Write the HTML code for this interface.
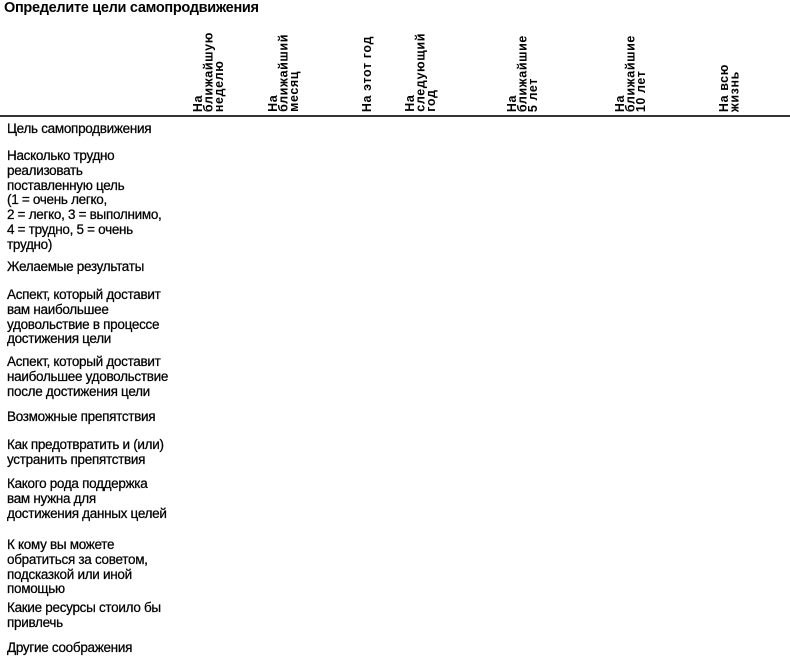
<!DOCTYPE html>
<html><head><meta charset="utf-8"><style>
body{margin:0;width:790px;height:657px;background:#fff;position:relative;overflow:hidden;font-family:"Liberation Sans","DejaVu Sans",sans-serif;color:#111}
.t{position:absolute;left:4px;top:0px;font-weight:bold;font-size:14.5px;letter-spacing:-0.3px;color:#000}
.h{position:absolute;bottom:545px;writing-mode:vertical-rl;transform:rotate(180deg);font-weight:bold;font-size:12.5px;line-height:10.5px;letter-spacing:0.6px;white-space:nowrap;color:#000}
.line{position:absolute;left:0;top:115px;width:790px;height:1.5px;background:#333}
.r{position:absolute;left:7px;font-size:13.5px;line-height:14.8px;letter-spacing:-0.3px;white-space:nowrap;color:#000;-webkit-text-stroke:0.25px #000}
</style></head><body>
<div class="t">Определите цели самопродвижения</div>
<div class="h" style="left:193px">На<br>ближайшую<br>неделю</div>
<div class="h" style="left:268px">На<br>ближайший<br>месяц</div>
<div class="h" style="left:362px">На этот год</div>
<div class="h" style="left:405px">На<br>следующий<br>год</div>
<div class="h" style="left:507px">На<br>ближайшие<br>5 лет</div>
<div class="h" style="left:615px">На<br>ближайшие<br>10 лет</div>
<div class="h" style="left:719px">На всю<br>жизнь</div>
<div class="line"></div>
<div class="r" style="top:122px">Цель самопродвижения</div>
<div class="r" style="top:149px">Насколько трудно<br>реализовать<br>поставленную цель<br>(1 = очень легко,<br>2 = легко, 3 = выполнимо,<br>4 = трудно, 5 = очень<br>трудно)</div>
<div class="r" style="top:260px">Желаемые результаты</div>
<div class="r" style="top:288px">Аспект, который доставит<br>вам наибольшее<br>удовольствие в процессе<br>достижения цели</div>
<div class="r" style="top:355px">Аспект, который доставит<br>наибольшее удовольствие<br>после достижения цели</div>
<div class="r" style="top:410px">Возможные препятствия</div>
<div class="r" style="top:438px">Как предотвратить и (или)<br>устранить препятствия</div>
<div class="r" style="top:477px">Какого рода поддержка<br>вам нужна для<br>достижения данных целей</div>
<div class="r" style="top:538px">К кому вы можете<br>обратиться за советом,<br>подсказкой или иной<br>помощью</div>
<div class="r" style="top:601px">Какие ресурсы стоило бы<br>привлечь</div>
<div class="r" style="top:641px">Другие соображения</div>
</body></html>
